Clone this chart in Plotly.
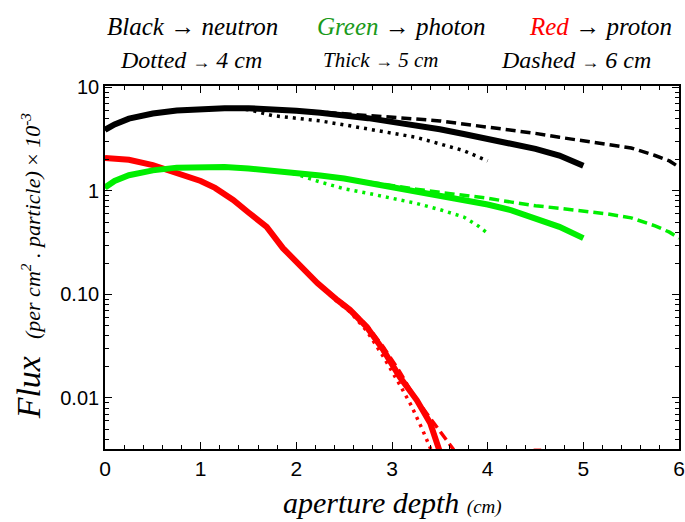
import plotly.graph_objects as go

# ---- flux data (per cm^2 . particle, x 10^-3) vs aperture depth (cm) ----
# neutrons
n_x_thick = [0, 0.1, 0.25, 0.5, 0.75, 1.0, 1.25, 1.5, 1.75, 2.0, 2.25, 2.5, 2.75, 3.0, 3.25, 3.5, 3.75, 4.0, 4.25, 4.5, 4.75, 5.0]
n_y_thick = [3.9, 4.4, 5.0, 5.6, 6.0, 6.2, 6.3, 6.3, 6.2, 5.95, 5.7, 5.4, 5.05, 4.65, 4.3, 3.95, 3.55, 3.2, 2.9, 2.55, 2.2, 1.75]
n_x_dash = [0, 0.1, 0.25, 0.5, 0.75, 1.0, 1.25, 1.5, 1.75, 2.0, 2.25, 2.5, 2.75, 3.0, 3.25, 3.5, 3.75, 4.0, 4.25, 4.5, 4.75, 5.0, 5.25, 5.5, 5.75, 5.9, 6.0]
n_y_dash = [3.9, 4.4, 5.0, 5.6, 6.0, 6.2, 6.3, 6.3, 6.2, 6.0, 5.8, 5.6, 5.4, 5.2, 4.95, 4.75, 4.45, 4.1, 3.85, 3.6, 3.3, 3.05, 2.85, 2.6, 2.2, 1.95, 1.7]
n_x_dot = [0, 0.1, 0.25, 0.5, 0.75, 1.0, 1.25, 1.5, 1.75, 2.0, 2.25, 2.5, 2.75, 3.0, 3.25, 3.5, 3.75, 4.0]
n_y_dot = [3.9, 4.4, 5.0, 5.6, 6.0, 6.2, 6.25, 6.1, 5.35, 5.0, 4.75, 4.35, 3.95, 3.65, 3.3, 2.85, 2.45, 1.95]

# photons
g_x_thick = [0, 0.1, 0.25, 0.5, 0.75, 1.0, 1.25, 1.5, 1.75, 2.0, 2.25, 2.5, 2.75, 3.0, 3.25, 3.5, 3.75, 4.0, 4.25, 4.5, 4.75, 5.0]
g_y_thick = [1.08, 1.25, 1.42, 1.58, 1.68, 1.71, 1.70, 1.65, 1.58, 1.50, 1.41, 1.32, 1.20, 1.10, 1.01, 0.92, 0.83, 0.74, 0.65, 0.55, 0.45, 0.35]
g_x_dash = [0, 0.1, 0.25, 0.5, 0.75, 1.0, 1.25, 1.5, 1.75, 2.0, 2.25, 2.5, 2.75, 3.0, 3.25, 3.5, 3.75, 4.0, 4.25, 4.5, 4.75, 5.0, 5.25, 5.5, 5.75, 5.9, 6.0]
g_y_dash = [1.08, 1.25, 1.42, 1.58, 1.68, 1.71, 1.70, 1.65, 1.58, 1.50, 1.41, 1.32, 1.22, 1.12, 1.04, 0.97, 0.91, 0.85, 0.78, 0.72, 0.68, 0.64, 0.60, 0.55, 0.46, 0.40, 0.35]
g_x_dot = [0, 0.1, 0.25, 0.5, 0.75, 1.0, 1.25, 1.5, 1.75, 2.0, 2.25, 2.5, 2.75, 3.0, 3.25, 3.5, 3.75, 3.9, 4.0]
g_y_dot = [1.08, 1.25, 1.42, 1.58, 1.68, 1.71, 1.70, 1.65, 1.57, 1.45, 1.22, 1.05, 0.95, 0.85, 0.76, 0.66, 0.56, 0.46, 0.39]

# protons
p_x_thick = [0, 0.25, 0.5, 0.75, 1.0, 1.15, 1.34, 1.5, 1.69, 1.86, 2.04, 2.22, 2.43, 2.56, 2.74, 2.91, 3.08, 3.26, 3.40, 3.47, 3.55]
p_y_thick = [2.08, 2.0, 1.78, 1.5, 1.25, 1.07, 0.82, 0.62, 0.45, 0.28, 0.19, 0.129, 0.088, 0.071, 0.048, 0.029, 0.016, 0.0095, 0.0057, 0.0034, 0.0022]
p_x_dot = [0, 0.25, 0.5, 0.75, 1.0, 1.15, 1.34, 1.5, 1.69, 1.86, 2.04, 2.22, 2.43, 2.56, 2.74, 2.91, 3.08, 3.2, 3.32, 3.42, 3.5]
p_y_dot = [2.08, 2.0, 1.78, 1.5, 1.25, 1.07, 0.82, 0.62, 0.45, 0.28, 0.19, 0.127, 0.085, 0.068, 0.044, 0.025, 0.0135, 0.0085, 0.0049, 0.003, 0.002]
p_x_dash = [0, 0.25, 0.5, 0.75, 1.0, 1.15, 1.34, 1.5, 1.69, 1.86, 2.04, 2.22, 2.43, 2.56, 2.74, 2.91, 3.08, 3.19, 3.3, 3.45, 3.55, 3.64, 3.7, None, 4.48, 4.56]
p_y_dash = [2.08, 2.0, 1.78, 1.5, 1.25, 1.07, 0.82, 0.62, 0.45, 0.28, 0.19, 0.13, 0.09, 0.073, 0.05, 0.031, 0.018, 0.012, 0.0085, 0.0055, 0.0042, 0.0032, 0.0024, None, 0.00312, 0.00312]

# axis ticks
x_ticks = [0, 1, 2, 3, 4, 5, 6]
y_ticks = [0.01, 0.1, 1, 10]
y_ticktext = ["0.01", "0.10", "1", "10"]

BLACK = "#000000"
GREEN = "#00ee00"
RED = "#ff0000"

DOT = "3px,5px"
DASH = "10px,5px"

fig = go.Figure()

def add(x, y, color, width, dash):
    fig.add_trace(go.Scatter(
        x=x, y=y, mode="lines",
        line=dict(color=color, width=width, dash=dash),
        connectgaps=False, showlegend=False, hoverinfo="skip",
    ))

add(p_x_dash, p_y_dash, RED, 3.5, DASH)
add(p_x_dot, p_y_dot, RED, 3.5, DOT)
add(p_x_thick, p_y_thick, RED, 6, "solid")

add(g_x_dash, g_y_dash, GREEN, 3.5, DASH)
add(g_x_dot, g_y_dot, GREEN, 3.5, DOT)
add(g_x_thick, g_y_thick, GREEN, 6, "solid")

add(n_x_dash, n_y_dash, BLACK, 3.5, DASH)
add(n_x_dot, n_y_dot, BLACK, 3.5, DOT)
add(n_x_thick, n_y_thick, BLACK, 6, "solid")

y_minor = [k * 10 ** e for e in range(-3, 1) for k in range(2, 10)]
x_minor = [i / 5 for i in range(31) if i % 5 != 0]

fig.update_xaxes(
    range=[0, 6], tickvals=x_ticks, ticks="inside", ticklen=7, tickwidth=1.3,
    tickcolor="black", showline=True, linecolor="black", linewidth=1.6,
    mirror="allticks", showgrid=False, zeroline=False, automargin=False,
    tickfont=dict(family="Liberation Sans, Arial, sans-serif", size=21, color="black"),
    minor=dict(tickvals=x_minor, ticks="inside", ticklen=4, tickwidth=1, tickcolor="black", showgrid=False),
)
fig.update_yaxes(
    type="log", range=[-2.493, 1.014], tickvals=y_ticks, ticktext=y_ticktext,
    ticks="inside", ticklen=7, tickwidth=1.3, tickcolor="black",
    showline=True, linecolor="black", linewidth=1.6, mirror="allticks",
    showgrid=False, zeroline=False, automargin=False,
    tickfont=dict(family="Liberation Sans, Arial, sans-serif", size=20, color="black"),
    minor=dict(tickvals=y_minor, ticks="inside", ticklen=4, tickwidth=1, tickcolor="black", showgrid=False),
)

SERIF = "Liberation Serif, Times New Roman, serif"

def note(text, x, y, size, angle=0):
    fig.add_annotation(
        text=text, x=x, y=y, xref="paper", yref="paper", showarrow=False,
        xanchor="center", yanchor="middle", textangle=angle,
        font=dict(family=SERIF, size=size, color="black"),
    )

# key for colours and line styles
note("<i>Black</i> → <i>neutron</i>", 0.152, 1.163, 25)
note("<i><span style='color:#1a9a1a'>Green</span></i> → <i>photon</i>", 0.517, 1.163, 25)
note("<i><span style='color:#ff0000'>Red</span></i> → <i>proton</i>", 0.864, 1.163, 25)
note("<i>Dotted</i> <span style='font-size:18px'>→</span> <i>4 cm</i>", 0.150, 1.072, 24)
note("<i>Thick</i> <span style='font-size:18px'>→</span> <i>5 cm</i>", 0.480, 1.072, 21)
note("<i>Dashed</i> <span style='font-size:18px'>→</span> <i>6 cm</i>", 0.821, 1.072, 24)

# axis titles
note("<i>aperture depth</i> <span style='font-size:19px'><i>(cm)</i></span>", 0.5, -0.148, 30)
note("<i>Flux</i>  <span style='font-size:22px'><i>(per cm<sup>2</sup> . particle)</i> × <i>10<sup>-3</sup></i></span>",
     -0.133, 0.505, 34, angle=-90)

fig.update_layout(
    width=685, height=522,
    margin=dict(l=105, r=6, t=86, b=73),
    paper_bgcolor="white", plot_bgcolor="white",
    showlegend=False,
)

fig.write_html("out.html")
